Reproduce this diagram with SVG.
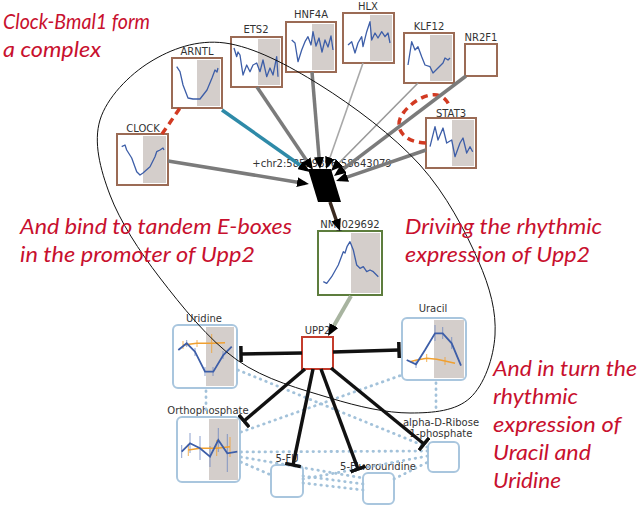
<svg xmlns="http://www.w3.org/2000/svg" width="640" height="509" viewBox="0 0 640 509">
<defs>
<style>
.gene{fill:#fff;stroke:#9b6b55;stroke-width:2}
.shade{fill:#d4cecb}
.trace{fill:none;stroke:#3d5ea8;stroke-width:1.3;stroke-linejoin:round}
.met{fill:#fff;stroke:#a9c6de;stroke-width:2}
.lbl{font-family:"DejaVu Sans",sans-serif;font-size:10px;fill:#333;text-anchor:middle}
.note{font-family:Lato,"Open Sans",sans-serif;font-style:italic;font-size:21px;fill:#c8102e}
.tf{fill:none;stroke:#7b7b7b;stroke-width:3.5;marker-end:url(#arr)}
.thin{fill:none;stroke:#a8a8a8;stroke-width:1.6;marker-end:url(#arr)}
.inh{fill:none;stroke:#111;stroke-width:3.5;marker-end:url(#tee)}
.dot{fill:none;stroke:#a3c2da;stroke-width:2.8;stroke-linecap:round;stroke-dasharray:0.5 5.5}
.red{fill:none;stroke:#d23a22;stroke-width:3.5;stroke-dasharray:7 5}
.orange{fill:none;stroke:#f0a030;stroke-width:1.6}
.blue{fill:none;stroke:#3d5ea8;stroke-width:1.8}
.err{stroke:#6e88c0;stroke-width:0.8}
.erro{stroke:#f0a030;stroke-width:0.8}
</style>
<marker id="arr" markerUnits="userSpaceOnUse" markerWidth="12" markerHeight="10" viewBox="0 0 12 10" refX="8" refY="5" orient="auto"><path d="M0,0L12,5L0,10z" fill="#000"/></marker>
<marker id="tee" markerUnits="userSpaceOnUse" markerWidth="4" markerHeight="16" viewBox="0 0 4 16" refX="2" refY="8" orient="auto"><path d="M2,0L2,16" stroke="#111" stroke-width="3.5"/></marker>
</defs>
<rect width="640" height="509" fill="#fff"/>

<g id="nodes">
<g id="ARNTL"><rect class="gene" x="172" y="58" width="50" height="50"/><rect class="shade" x="197" y="60" width="23" height="46"/><polyline class="trace" points="176.7,66.7 180,71.7 183,85 188,98 193,99 200,99 207,90 212,78 215,70 217,72 218,68"/><text class="lbl" x="197" y="55">ARNTL</text></g>
<g id="CLOCK"><rect class="gene" x="117" y="134" width="51" height="51"/><rect class="shade" x="143" y="136" width="23" height="47"/><polyline class="trace" points="121.7,146.7 125,145 126.7,150 131.7,158 136.7,171.7 140,175 143,173 150,166.7 155,156.7 156.7,151.7 160,150 163,148 164,150"/><text class="lbl" x="143" y="132">CLOCK</text></g>
<g id="ETS2"><rect class="gene" x="231" y="37" width="51" height="50"/><rect class="shade" x="258" y="39" width="22" height="46"/><polyline class="trace" points="234,48 236.7,56.7 238,52 240,55 241.7,66.7 243,75 246.7,65 250,71.7 253,65 256.7,63 260,71.7 263,60 266.7,76.7 270,68 273,75 276.7,56.7 278,76.7"/><text class="lbl" x="256" y="33">ETS2</text></g>
<g id="HNF4A"><rect class="gene" x="286" y="22" width="50" height="50"/><rect class="shade" x="312" y="24" width="22" height="46"/><polyline class="trace" points="291.7,40 295,43 298,61.7 301.7,50 305,41.7 308,36.7 311,45 313,31.7 316,46 319,38 322,52 325,40 328,47 331,36 333,50"/><text class="lbl" x="311" y="18">HNF4A</text></g>
<g id="HLX"><rect class="gene" x="343" y="13" width="51" height="50"/><rect class="shade" x="370" y="15" width="22" height="46"/><polyline class="trace" points="348,45 351.7,41.7 355,53 358,43 361.7,36.7 363,46.7 366.7,31.7 370,21.7 371.7,40 375,33 378,38 381.7,31.7 385,36.7 388,33 390,43"/><text class="lbl" x="368" y="10">HLX</text></g>
<g id="KLF12"><rect class="gene" x="404" y="33" width="50" height="50"/><rect class="shade" x="430" y="35" width="22" height="46"/><polyline class="trace" points="408,65 411.7,41.7 415,50 418,46.7 421.7,56.7 425,65 430,66.7 433,73 438,68 443,63 445,58 448,60 450,58"/><text class="lbl" x="429" y="30">KLF12</text></g>
<g id="NR2F1"><rect class="gene" x="465" y="44" width="32" height="32"/><text class="lbl" x="481" y="41">NR2F1</text></g>
<g id="STAT3"><rect class="gene" x="426" y="118" width="50" height="50"/><rect class="shade" x="452" y="120" width="22" height="46"/><polyline class="trace" points="430,146.7 435,126.7 438,140 443,128 446.7,143 451.7,140 455,156.7 460,143 463,138 466.7,153 470,146.7 472.7,151.7"/><text class="lbl" x="451" y="117">STAT3</text></g>
<g id="chr2"><polygon points="308,169 331,169 341,202 318,202" fill="#000"/><text class="lbl" x="322" y="167">+chr2:58599396-58643079</text></g>
<g id="NM_029692"><rect x="318" y="231" width="64" height="64" fill="#fff" stroke="#5d7d3d" stroke-width="2"/><rect class="shade" x="351" y="233" width="29" height="60"/><polyline class="trace" points="323.3,281.7 326.7,283.3 331.7,276.7 338.3,265 343.3,251.7 345,253 347,246.7 350,241.7 353.3,250 356.7,265 360,268.3 363.3,266.7 366.7,271.7 370,270 373.3,271.7 378.3,276.7"/><text class="lbl" x="350" y="228">NM_029692</text></g>
<g id="UPP2"><rect x="302" y="337" width="31" height="32" fill="#fff" stroke="#c43c2c" stroke-width="2"/><text class="lbl" x="317.5" y="334">UPP2</text></g>
<g id="Uridine"><rect class="met" x="173" y="325" width="64" height="63" rx="5"/><rect class="shade" x="206" y="327" width="28" height="59"/>
<path class="err" d="M186.7,340V347M195,348V356M205,367V376M213,367V376M223,351V359"/>
<path class="erro" d="M183,341V349M211.7,334V353M197,340V347"/>
<polyline class="orange" points="183.3,345 196.7,343.3 211.7,343.3 225,342.7"/>
<polyline class="blue" points="178.3,350 186.7,343.3 195,351.7 205,371.7 213.3,371.7 223.3,355 231.7,346.7"/>
<text class="lbl" x="204" y="322">Uridine</text></g>
<g id="Uracil"><rect class="met" x="402" y="318" width="64" height="62" rx="5"/><rect class="shade" x="434" y="320" width="30" height="58"/>
<path class="err" d="M435,325V341M442.7,327V339M451.7,337V349M416,360V368"/>
<path class="erro" d="M426.7,354V362M445,357V365"/>
<polyline class="orange" points="410,361.7 416.7,360 426.7,358.3 436.7,359.3 445,361 455,363.3"/>
<polyline class="blue" points="406.7,360 416,364.3 425,350 435,333.3 442.7,333.3 451.7,343.3 461,365.7"/>
<text class="lbl" x="433" y="312">Uracil</text></g>
<g id="Orthophosphate"><rect class="met" x="177" y="417" width="63" height="65" rx="5"/><rect class="shade" x="209" y="419" width="29" height="61"/>
<path class="err" d="M190,433V453M200,436V460M210,446V467M218.3,428V452M227.3,434V472M181.7,445V458"/>
<path class="erro" d="M188.3,444V456M216.7,440V456M230,437V457"/>
<polyline class="orange" points="188.3,450 200,448.3 216.7,448.3 230,446.7"/>
<polyline class="blue" points="181.7,451.7 190,443.3 200,448.3 210,456.7 218.3,440 227.3,453.3 237.3,451.7"/>
<text class="lbl" x="208" y="414">Orthophosphate</text></g>
<g id="FU"><rect class="met" x="271" y="465" width="32" height="32" rx="5"/><text class="lbl" x="287" y="462">5-FU</text></g>
<g id="Fluorouridine"><rect class="met" x="363" y="473" width="31" height="31" rx="5"/><text class="lbl" x="378" y="470">5-Fluorouridine</text></g>
<g id="Ribose"><rect class="met" x="428" y="442" width="31" height="30" rx="5"/><text class="lbl" x="441" y="426">alpha-D-Ribose</text><text class="lbl" x="441" y="437">1-phosphate</text></g>
</g>

<g id="connectors">
<path class="dot" d="M206,391V412"/>
<path class="dot" d="M238,370L427,447"/>
<path class="dot" d="M241,432L402,375"/>
<path class="dot" d="M436,383V412"/>
<path class="dot" d="M241,452L428,451"/>
<path class="dot" d="M241,462L271,475"/>
<path class="dot" d="M241,457L363,478"/>
<path class="dot" d="M303,476L363,484"/>
<path class="dot" d="M303,483L363,490"/>
<path class="dot" d="M303,479L428,456"/>
<path class="dot" d="M394,479L428,462"/>
<path class="red" d="M162,134L180,108"/>
<path class="red" d="M426,143C400,142 393,125 404,112C415,98 440,85 449,105"/>
<path class="tf" d="M168,161L305,183.4"/>
<path d="M222,110L306.7,169.7" fill="none" stroke="#2e8aa8" stroke-width="3.5" marker-end="url(#arr)"/>
<path class="tf" d="M257,87L310.8,166.7"/>
<path class="tf" d="M312,72L319.7,165"/>
<path class="thin" d="M363,63L327.3,165.2"/>
<path class="thin" d="M418,83L333.8,168.2" style="stroke:#999"/>
<path class="tf" d="M466,76L337.2,173.6"/>
<path class="tf" d="M426,150L339.8,179.7"/>
<path d="M330,202L338.7,227.2" fill="none" stroke="#3a2a20" stroke-width="3.5" marker-end="url(#arr)"/>
<path d="M351,296L330,332.5" fill="none" stroke="#a8b4a0" stroke-width="4" marker-end="url(#arr)"/>
<path class="inh" d="M302,353L241,354"/>
<path class="inh" d="M333,352L399,350"/>
<path class="inh" d="M305,369L244,421"/>
<path class="inh" d="M313,369L293,465"/>
<path class="inh" d="M321,369L358,469"/>
<path class="inh" d="M331,368L424,444"/>
</g>

<g id="annotations">
<path d="M225,43C253.3,46.8 287.5,64.7 320,85C352.5,105.3 393.7,135.8 420,165C446.3,194.2 465.5,231.7 478,260C490.5,288.3 496.3,312 495,335C493.7,358 484.2,385 470,398C455.8,411 433.3,413 410,413C386.7,413 358.8,406.8 330,398C301.2,389.2 265.3,380 237,360C208.7,340 181.2,305.5 160,278C138.8,250.5 120,221.3 110,195C100,168.7 93.3,142.2 100,120C106.7,97.8 129.2,74.8 150,62C170.8,49.2 196.7,39.2 225,43Z" fill="none" stroke="#111" stroke-width="1"/>
<text class="note" x="3" y="29" textLength="147" lengthAdjust="spacingAndGlyphs">Clock-Bmal1 form</text>
<text class="note" x="3" y="57" textLength="98" lengthAdjust="spacingAndGlyphs">a complex</text>
<text class="note" x="20" y="234" textLength="272" lengthAdjust="spacingAndGlyphs">And bind to tandem E-boxes</text>
<text class="note" x="20" y="262" textLength="235" lengthAdjust="spacingAndGlyphs">in the promoter of Upp2</text>
<text class="note" x="405" y="234" textLength="197" lengthAdjust="spacingAndGlyphs">Driving the rhythmic</text>
<text class="note" x="405" y="262" textLength="185" lengthAdjust="spacingAndGlyphs">expression of Upp2</text>
<text class="note" x="493" y="376" textLength="144" lengthAdjust="spacingAndGlyphs">And in turn the</text>
<text class="note" x="493" y="404" textLength="85" lengthAdjust="spacingAndGlyphs">rhythmic</text>
<text class="note" x="493" y="432" textLength="128" lengthAdjust="spacingAndGlyphs">expression of</text>
<text class="note" x="493" y="460" textLength="98" lengthAdjust="spacingAndGlyphs">Uracil and</text>
<text class="note" x="493" y="488" textLength="68" lengthAdjust="spacingAndGlyphs">Uridine</text>
</g>
</svg>
